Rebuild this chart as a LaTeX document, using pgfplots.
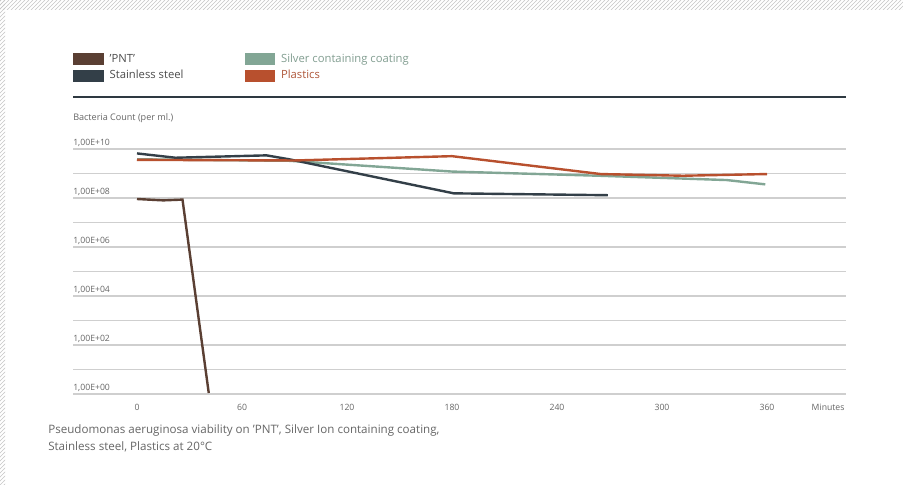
\documentclass[border=0pt]{standalone}
\usepackage{pgfplots}
\pgfplotsset{compat=1.18}
\usepackage{fontspec}
\setmainfont{Open Sans}
\usetikzlibrary{patterns}
\definecolor{cPNT}{HTML}{5A3F33}
\definecolor{cSteel}{HTML}{333F48}
\definecolor{cSilver}{HTML}{82A695}
\definecolor{cPlast}{HTML}{B8502E}
\definecolor{cPlastSw}{HTML}{DC3A12}
\definecolor{cText}{HTML}{666666}
\definecolor{cGrid}{HTML}{CFCFCF}
\begin{document}
\begin{tikzpicture}
\useasboundingbox (0,0) rectangle (677.25pt,-363.75pt);
\fill[white] (0,0) rectangle (677.25pt,-363.75pt);
\fill[pattern=north east lines, pattern color=gray!45] (0,0) rectangle (677.25pt,-7.5pt);
\fill[pattern=north east lines, pattern color=gray!45] (0,0) rectangle (3.75pt,-363.75pt);
\draw[cSteel!90!black, line width=1.9pt] (54.75pt,-72.75pt) -- (634.5pt,-72.75pt);
\node[anchor=west, inner sep=0, font=\fontsize{6.8}{7}\selectfont, text=cText] at (54.75pt,-88.5pt) {Bacteria Count (per ml.)};
\node[anchor=west, inner sep=0, font=\fontsize{8.7}{12.75}\selectfont, text=cText, align=left] at (36pt,-329pt)
  {Pseudomonas aeruginosa viability on 'PNT', Silver Ion containing coating,\\Stainless steel, Plastics at 20°C};
\begin{axis}[
  at={(54.75pt,-295.5pt)}, anchor=south west,
  scale only axis, width=579.75pt, height=183.75pt,
  ymode=log, ymin=1, ymax=1e10,
  xmin=-36.57, xmax=405.14,
  axis line style={draw=none},
  major tick length=0pt, minor tick length=0pt,
  /pgf/number format/assume math mode=true,
  ytick={1,1e1,1e2,1e3,1e4,1e5,1e6,1e7,1e8,1e9,1e10},
  yticklabels={{1,00E+00},{},{1,00E+02},{},{1,00E+04},{},{1,00E+06},{},{1,00E+08},{},{1,00E+10}},
  minor ytick={},
  ymajorgrids, major grid style={draw=cGrid, line width=0.8pt},
  yticklabel style={anchor=west, inner sep=0pt, yshift=4.5pt, font=\fontsize{6.5}{7}\selectfont, text=cText},
  xtick={0,60,120,180,240,300,360},
  xticklabel style={anchor=center, inner sep=0pt, yshift=-9.75pt, font=\fontsize{6.5}{7}\selectfont, text=cText},
  legend columns=2,
  legend cell align=left,
  legend style={at={(0,1.393)}, anchor=north west, draw=none, fill=none, inner sep=0pt,
    font=\fontsize{8.45}{10}\selectfont, row sep=3.2pt, column sep=0pt,
    nodes={inner sep=0pt, text height=6.5pt, text depth=1.8pt}},
  legend image code/.code={\fill[#1] (0pt,-3.75pt) rectangle (21pt,3.75pt);},
  clip=false,
]
\addplot[cPNT, line width=1.8pt] coordinates {(0,9.1e7) (15,8e7) (26,8.6e7) (41,1.1)};
\addlegendentry{\hspace*{4.5pt}\makebox[101.25pt][l]{\textcolor{cText!75!black}{'PNT'}}}
\addplot[cSilver, line width=1.8pt] coordinates {(0,3.8e9) (87,3.3e9) (180,1.2e9) (264,8.1e8) (337,5.4e8) (359,3.6e8)};
\addlegendentry{\hspace*{4.5pt}\textcolor{cSilver!80!gray}{Silver containing coating}}
\addplot[cSteel, line width=1.8pt] coordinates {(0,6.6e9) (22,4.4e9) (74,5.5e9) (87,3.8e9) (181,1.55e8) (269,1.3e8)};
\addlegendentry{\hspace*{4.5pt}\makebox[101.25pt][l]{\textcolor{cText!75!black}{Stainless steel}}}
\addplot[cPlast, line width=1.8pt] coordinates {(0,3.6e9) (90,3.4e9) (180,5.1e9) (265,9.5e8) (312,8.1e8) (360,9.5e8)};
\addlegendimage{cPlastSw}
\addlegendentry{\hspace*{4.5pt}\textcolor{cPlast!85!gray}{Plastics}}
\node[anchor=center, inner sep=0pt, font=\fontsize{6.5}{7}\selectfont, text=cText] at (axis cs:394.9,1) [yshift=-9.75pt] {Minutes};
\end{axis}
\end{tikzpicture}
\end{document}
